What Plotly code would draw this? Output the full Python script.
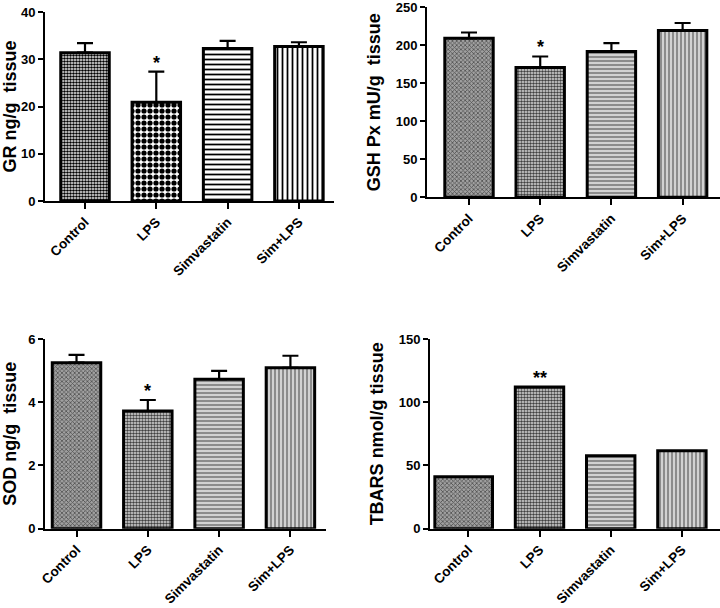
import plotly.graph_objects as go

# ---- data ----
categories = ["Control", "LPS", "Simvastatin", "Sim+LPS"]

gr_mean = [31.4, 20.9, 32.3, 32.7]
gr_err = [2.0, 6.5, 1.6, 0.9]

gsh_mean = [209, 170.5, 191.5, 219]
gsh_err = [7.5, 14.5, 11, 10]

sod_mean = [5.25, 3.72, 4.73, 5.09]
sod_err = [0.25, 0.35, 0.26, 0.38]

tbars_mean = [41.1, 112, 57.7, 61.7]

gr_title = "GR ng/g\u00a0 tissue"
gsh_title = "GSH Px mU/g\u00a0 tissue"
sod_title = "SOD ng/g\u00a0 tissue"
tbars_title = "TBARS nmol/g tissue"

gr_ticks = [0, 10, 20, 30, 40]
gsh_ticks = [0, 50, 100, 150, 200, 250]
sod_ticks = [0, 2, 4, 6]
tbars_ticks = [0, 50, 100, 150]

# ---- styles ----
W, H = 720, 608
FONT = "Liberation Sans, Arial, sans-serif"

pat_bw = [
    dict(shape=".", fgcolor="black", bgcolor="white", size=3, solidity=0.6, fillmode="replace"),
    dict(shape=".", fgcolor="black", bgcolor="white", size=6, solidity=0.6, fillmode="replace"),
    dict(shape="-", fgcolor="black", bgcolor="white", size=5, solidity=0.35, fillmode="replace"),
    dict(shape="|", fgcolor="black", bgcolor="white", size=5, solidity=0.35, fillmode="replace"),
]
pat_gray = [
    dict(shape="x", fgcolor="#505050", bgcolor="#a0a0a0", size=3, solidity=0.45, fillmode="replace"),
    dict(shape=".", fgcolor="#404040", bgcolor="#e0e0e0", size=3, solidity=0.55, fillmode="replace"),
    dict(shape="-", fgcolor="#8c8c8c", bgcolor="#d2d2d2", size=4, solidity=0.5, fillmode="replace"),
    dict(shape="|", fgcolor="#8c8c8c", bgcolor="#d2d2d2", size=4, solidity=0.5, fillmode="replace"),
]


def px_dom_x(a, b):
    return [a / W, min(b / W, 1.0)]


def px_dom_y(top, bottom):
    return [1 - bottom / H, 1 - top / H]


panels = [
    dict(vals=gr_mean, err=gr_err, title=gr_title, ticks=gr_ticks, yr=[0, 40],
         dx=(45, 334), dy=(12, 201), xr=[-0.561, 3.492], pats=pat_bw, star="*",
         widths=[0.68] * 4, offsets=[-0.34] * 4),
    dict(vals=gsh_mean, err=gsh_err, title=gsh_title, ticks=gsh_ticks, yr=[0, 250],
         dx=(427, 720), dy=(7, 197.3), xr=[-0.59, 3.525], pats=pat_gray, star="*",
         widths=[0.68] * 4, offsets=[-0.34] * 4),
    dict(vals=sod_mean, err=sod_err, title=sod_title, ticks=sod_ticks, yr=[0, 6],
         dx=(45, 326), dy=(339, 528.7), xr=[-0.442, 3.499], pats=pat_gray, star="*",
         widths=[0.68] * 4, offsets=[-0.34] * 4),
    dict(vals=tbars_mean, err=None, title=tbars_title, ticks=tbars_ticks, yr=[0, 150],
         dx=(430, 720), dy=(339, 528.7), xr=[-0.538, 3.535], pats=pat_gray, star="**",
         widths=[0.81, 0.68, 0.68, 0.68], offsets=[-0.47, -0.34, -0.34, -0.34]),
]

fig = go.Figure()
layout = dict(
    width=W, height=H, margin=dict(l=0, r=0, t=0, b=0),
    paper_bgcolor="white", plot_bgcolor="white", showlegend=False,
    font=dict(family=FONT, color="black", size=13, weight="bold"),
    annotations=[],
)

for i, p in enumerate(panels):
    n = "" if i == 0 else str(i + 1)
    xa, ya = "x" + n, "y" + n
    for j, c in enumerate(categories):
        err = None
        if p["err"] is not None:
            err = dict(type="data", symmetric=False, array=[p["err"][j]], arrayminus=[0],
                       thickness=2.2, width=8, color="black")
        fig.add_trace(go.Bar(
            x=[c], y=[p["vals"][j]], xaxis=xa, yaxis=ya,
            width=[p["widths"][j]], offset=[p["offsets"][j]],
            marker=dict(color=p["pats"][j]["bgcolor"], pattern=p["pats"][j],
                        line=dict(color="black", width=3)),
            error_y=err, hoverinfo="skip",
        ))
    layout["xaxis" + n] = dict(
        domain=px_dom_x(*p["dx"]), anchor=ya, type="category", automargin=False,
        categoryorder="array", categoryarray=categories, range=p["xr"],
        showline=True, linecolor="black", linewidth=2, mirror=False,
        ticks="outside", ticklen=6, tickwidth=2, tickcolor="black",
        tickangle=-45, tickfont=dict(family=FONT, size=13.5, weight="bold"),
        ticklabeloverflow="allow",
        showgrid=False, zeroline=False, fixedrange=True,
    )
    layout["yaxis" + n] = dict(
        domain=px_dom_y(*p["dy"]), anchor=xa, range=p["yr"], automargin=False,
        tickvals=p["ticks"], showline=True, linecolor="black", linewidth=2,
        ticks="outside", ticklen=5, tickwidth=2, tickcolor="black",
        tickfont=dict(family=FONT, size=13, weight="bold"),
        ticklabeloverflow="allow",
        title=dict(text=p["title"], standoff=10,
                   font=dict(family=FONT, size=18, weight="bold")),
        showgrid=False, zeroline=False, fixedrange=True,
    )
    top = p["vals"][1] + (p["err"][1] if p["err"] is not None else 0)
    layout["annotations"].append(dict(
        x="LPS", y=top, xref=xa, yref=ya, text=p["star"], showarrow=False,
        yanchor="bottom", yshift=-3, font=dict(family=FONT, size=18, weight="bold"),
    ))

fig.update_layout(**layout)
fig.write_html("out.html", config={"displayModeBar": False, "staticPlot": True},
               post_script="document.body.style.margin='0';document.body.style.padding='0';")
